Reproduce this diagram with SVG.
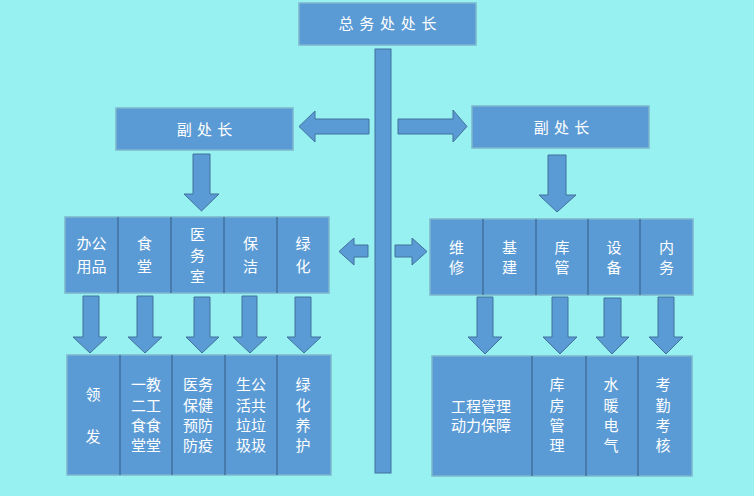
<svg xmlns="http://www.w3.org/2000/svg" width="754" height="496" viewBox="0 0 754 496">
<style>
.bg{fill:#97F1F0}
.box{fill:#5B9BD5;stroke:#7DB6CC;stroke-width:1.5}
.sep{stroke:#41719C;stroke-width:1.5}
.arr{fill:#5B9BD5;stroke:#41719C;stroke-width:1}
text{font-family:"Noto Sans CJK SC","Noto Sans",sans-serif;font-size:15px;fill:#FFFFFF;text-anchor:middle}
</style>
<rect class="bg" x="0" y="0" width="754" height="496"/>
<g id="connectors">
<rect class="arr" x="375" y="49" width="16" height="424"/>
<polygon class="arr" points="369,119 315,119 315,111 299,126.5 315,142 315,134 369,134"/>
<polygon class="arr" points="398,119 453,119 453,110 467,126.5 453,142 453,134 398,134"/>
<polygon class="arr" points="193,154 210,154 210,194 219,194 201.5,211 184,194 193,194"/>
<polygon class="arr" points="548,155 566,155 566,195 576,195 557,212 539,195 548,195"/>
<polygon class="arr" points="368,245 354,245 354,238 339,251.5 354,265 354,257 368,257"/>
<polygon class="arr" points="395,245 412,245 412,238 427,251.5 412,265 412,257 395,257"/>
<polygon class="arr" points="83,296 99,296 99,337 107,337 90,353 73,337 83,337"/>
<polygon class="arr" points="137,296 153,296 153,337 162,337 145,353 128,337 137,337"/>
<polygon class="arr" points="194,297 210,297 210,337 219,337 202,353 186,337 194,337"/>
<polygon class="arr" points="242,296 257,296 257,337 267,337 250,353 233,337 242,337"/>
<polygon class="arr" points="295,297 311,297 311,337 321,337 304,353 287,337 295,337"/>
<polygon class="arr" points="477,297 493,297 493,337 502,337 485,354 468,337 477,337"/>
<polygon class="arr" points="552,297 568,297 568,337 577,337 560,354 543,337 552,337"/>
<polygon class="arr" points="604,298 621,298 621,337 629,337 612,354 596,337 604,337"/>
<polygon class="arr" points="658,297 674,297 674,337 683,337 666,354 649,337 658,337"/>
</g>
<g id="director">
<rect class="box" x="299" y="3" width="177" height="42"/>
<text x="388" y="29" letter-spacing="1.2">总 务 处 处 长</text>
</g>
<g id="deputy-left">
<rect class="box" x="116" y="108" width="177" height="42"/>
<text x="205" y="135" letter-spacing="1">副 处 长</text>
</g>
<g id="deputy-right">
<rect class="box" x="472" y="106" width="177" height="42"/>
<text x="562" y="133" letter-spacing="1">副 处 长</text>
</g>
<g id="left-depts">
<rect class="box" x="65" y="217" width="264" height="76"/>
<line class="sep" x1="118" y1="217" x2="118" y2="293"/>
<line class="sep" x1="171" y1="217" x2="171" y2="293"/>
<line class="sep" x1="224" y1="217" x2="224" y2="293"/>
<line class="sep" x1="277" y1="217" x2="277" y2="293"/>
<text x="91.5" y="249">办公</text><text x="91.5" y="272">用品</text>
<text x="144.5" y="249">食</text><text x="144.5" y="272">堂</text>
<text x="197.5" y="240">医</text><text x="197.5" y="261">务</text><text x="197.5" y="282">室</text>
<text x="250.5" y="249">保</text><text x="250.5" y="272">洁</text>
<text x="303" y="249">绿</text><text x="303" y="272">化</text>
</g>
<g id="right-depts">
<rect class="box" x="430" y="219" width="263" height="76"/>
<line class="sep" x1="483" y1="219" x2="483" y2="295"/>
<line class="sep" x1="536" y1="219" x2="536" y2="295"/>
<line class="sep" x1="588" y1="219" x2="588" y2="295"/>
<line class="sep" x1="640" y1="219" x2="640" y2="295"/>
<text x="456.5" y="253">维</text><text x="456.5" y="273">修</text>
<text x="509.5" y="253">基</text><text x="509.5" y="273">建</text>
<text x="562" y="253">库</text><text x="562" y="273">管</text>
<text x="614" y="253">设</text><text x="614" y="273">备</text>
<text x="666.5" y="253">内</text><text x="666.5" y="273">务</text>
</g>
<g id="left-duties">
<rect class="box" x="67" y="355" width="264" height="120"/>
<line class="sep" x1="120" y1="355" x2="120" y2="475"/>
<line class="sep" x1="172" y1="355" x2="172" y2="475"/>
<line class="sep" x1="225" y1="355" x2="225" y2="475"/>
<line class="sep" x1="277" y1="355" x2="277" y2="475"/>
<text x="93" y="400">领</text><text x="93" y="442">发</text>
<text x="146" y="390">一教</text><text x="146" y="411">二工</text><text x="146" y="431">食食</text><text x="146" y="451">堂堂</text>
<text x="198" y="390">医务</text><text x="198" y="411">保健</text><text x="198" y="431">预防</text><text x="198" y="451">防疫</text>
<text x="251" y="390">生公</text><text x="251" y="411">活共</text><text x="251" y="431">垃垃</text><text x="251" y="451">圾圾</text>
<text x="303" y="390">绿</text><text x="303" y="411">化</text><text x="303" y="431">养</text><text x="303" y="451">护</text>
</g>
<g id="right-duties">
<rect class="box" x="432" y="356" width="260" height="120"/>
<line class="sep" x1="532" y1="356" x2="532" y2="476"/>
<line class="sep" x1="586" y1="356" x2="586" y2="476"/>
<line class="sep" x1="638" y1="356" x2="638" y2="476"/>
<text x="481" y="412">工程管理</text><text x="481" y="431">动力保障</text>
<text x="557" y="390">库</text><text x="557" y="411">房</text><text x="557" y="431">管</text><text x="557" y="451">理</text>
<text x="611" y="390">水</text><text x="611" y="411">暖</text><text x="611" y="431">电</text><text x="611" y="451">气</text>
<text x="663" y="390">考</text><text x="663" y="411">勤</text><text x="663" y="431">考</text><text x="663" y="451">核</text>
</g>
</svg>
